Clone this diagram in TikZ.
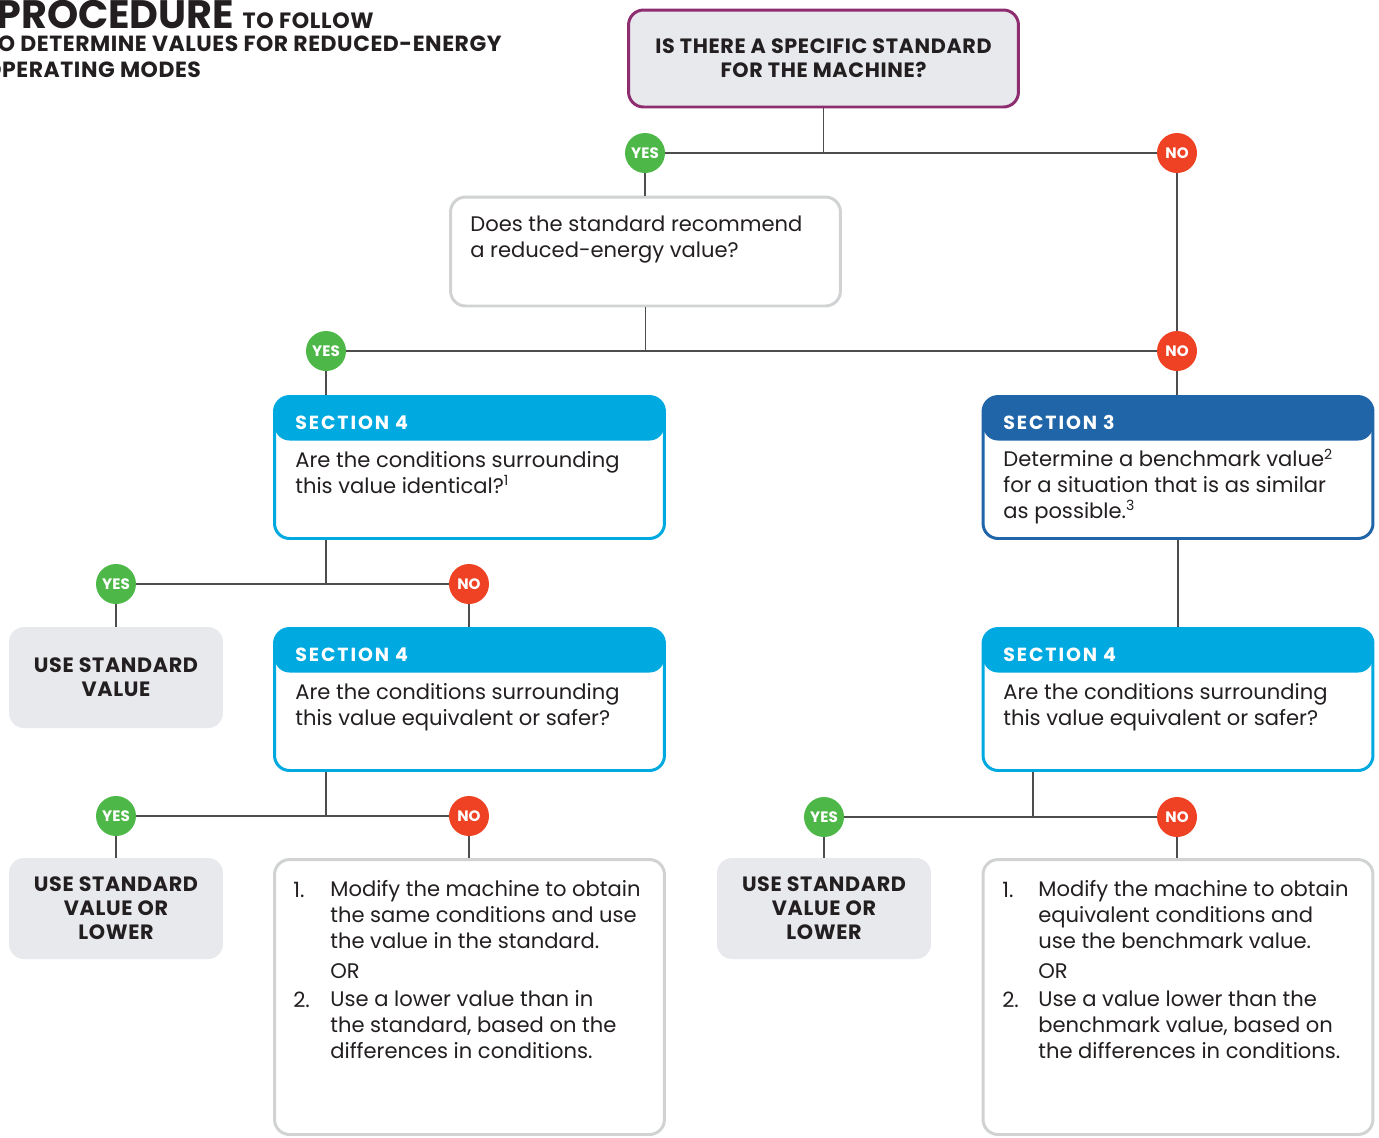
\documentclass[tikz,border=0pt]{standalone}
\usepackage{fontspec}
\setmainfont{Poppins}
\usepackage{xcolor}
\definecolor{pgpurple}{RGB}{142,45,112}
\definecolor{pgpale}{RGB}{232,233,237}
\definecolor{pgrim}{RGB}{208,210,211}
\definecolor{pgcyan}{RGB}{0,169,224}
\definecolor{pgblue}{RGB}{31,101,168}
\definecolor{pggreen}{RGB}{77,184,72}
\definecolor{pgred}{RGB}{239,65,35}
\definecolor{pgtext}{RGB}{35,31,32}
\definecolor{pgline}{RGB}{77,77,77}
\newcommand{\bodyfont}{\fontsize{12}{14.6}\selectfont}
\newcommand{\capsfont}{\fontsize{11.8}{13.7}\selectfont\bfseries\addfontfeatures{LetterSpace=3}}

\begin{document}
\begin{tikzpicture}[x=0.02cm, y=-0.02cm,
  link/.style={draw=pgline, line width=0.85pt},
  yesbadge/.style={circle, fill=pggreen, minimum size=0.8cm, inner sep=0pt, text=white, font=\fontsize{8.6}{9}\selectfont\bfseries},
  nobadge/.style={yesbadge, fill=pgred},
  plainbox/.style={draw=pgrim, line width=1.7pt, fill=white, rounded corners=0.3cm, minimum width=7.8cm},
  secbox/.style={draw=#1, line width=1.7pt, fill=white, rounded corners=0.3cm, minimum width=7.8cm, minimum height=2.84cm,
    path picture={\fill[#1] (path picture bounding box.north west) rectangle ([yshift=-0.88cm]path picture bounding box.north east);}},
  sechead/.style={anchor=base west, inner sep=0pt, text=white, font=\fontsize{10.8}{11}\selectfont\bfseries\addfontfeatures{LetterSpace=10}},
  bodytxt/.style={anchor=base west, inner sep=0pt, align=left, text=pgtext, font=\bodyfont},
  usebox/.style={fill=pgpale, rounded corners=0.3cm, minimum width=4.28cm, minimum height=2.02cm, align=center, text=pgtext, font=\capsfont}]
\useasboundingbox (0,0) rectangle (1379,1137);

% Title (runs off the left edge); a text node sits on its last line
\node[anchor=base west, inner sep=0pt, text=pgtext] (title) at (-4,28)
  {\fontsize{22.6}{23}\selectfont\bfseries PROCEDURE \fontsize{12.6}{13}\selectfont\addfontfeatures{LetterSpace=3}TO FOLLOW};
\node[anchor=base west, inner sep=0pt, align=left, text=pgtext,
  font=\fontsize{12.5}{14.8}\selectfont\bfseries\addfontfeatures{LetterSpace=2.5}] (subtitle) at (-16,77)
  {TO DETERMINE VALUES FOR REDUCED-ENERGY\\OPERATING MODES};

% Questions
\node[draw=pgpurple, line width=1.7pt, fill=pgpale, rounded corners=0.3cm, minimum width=7.8cm, minimum height=1.94cm,
  align=center, text=pgtext, font=\capsfont] (qstd) at (823.5,58.5) {IS THERE A SPECIFIC STANDARD\\FOR THE MACHINE?};
\node[plainbox, minimum height=2.18cm] (qrec) at (645.5,251.5) {};
\node[bodytxt] (qrectxt) at (470,257) {Does the standard recommend\\a reduced-energy value?};

% Sections
\node[secbox=pgcyan] (sec4a) at (469.5,467.5) {};
\node[sechead] (sec4ahead) at (295,429) {SECTION 4};
\node[bodytxt] (sec4atxt) at (295,493) {Are the conditions surrounding\\this value identical?\textsuperscript{1}};

\node[secbox=pgblue] (sec3) at (1178,467.5) {};
\node[sechead] (sec3head) at (1003,429) {SECTION 3};
\node[bodytxt] (sec3txt) at (1003,518) {Determine a benchmark value\textsuperscript{2}\\for a situation that is as similar\\as possible.\textsuperscript{3}};

\node[secbox=pgcyan] (sec4b) at (469.5,699.5) {};
\node[sechead] (sec4bhead) at (295,661) {SECTION 4};
\node[bodytxt] (sec4btxt) at (295,725) {Are the conditions surrounding\\this value equivalent or safer?};

\node[secbox=pgcyan] (sec4c) at (1178,699.5) {};
\node[sechead] (sec4chead) at (1003,661) {SECTION 4};
\node[bodytxt] (sec4ctxt) at (1003,725) {Are the conditions surrounding\\this value equivalent or safer?};

% Outcomes
\node[usebox] (usestd) at (116,677.5) {USE STANDARD\\VALUE};
\node[usebox] (uselowa) at (116,908.5) {USE STANDARD\\VALUE OR\\LOWER};
\node[usebox] (uselowb) at (824,908.5) {USE STANDARD\\VALUE OR\\LOWER};

\node[plainbox, minimum height=5.5cm] (acta) at (469.5,997) {};
\node[bodytxt] (actaone) at (293,897) {1.};
\node[bodytxt] (actafirst) at (330,948) {Modify the machine to obtain\\the same conditions and use\\the value in the standard.};
\node[bodytxt] (actaor) at (330,978) {OR};
\node[bodytxt] (actatwo) at (293,1007) {2.};
\node[bodytxt] (actasecond) at (330,1058) {Use a lower value than in\\the standard, based on the\\differences in conditions.};

\node[plainbox, minimum height=5.5cm] (actb) at (1178,997) {};
\node[bodytxt] (actbone) at (1002,897) {1.};
\node[bodytxt] (actbfirst) at (1038,948) {Modify the machine to obtain\\equivalent conditions and\\use the benchmark value.};
\node[bodytxt] (actbor) at (1038,978) {OR};
\node[bodytxt] (actbtwo) at (1002,1007) {2.};
\node[bodytxt] (actbsecond) at (1038,1058) {Use a value lower than the\\benchmark value, based on\\the differences in conditions.};

% Connectors
\draw[link] (qstd.south) -- (qstd.south |- 0,153);
\draw[link] (qrec.south) -- (qrec.south |- 0,351);
\draw[link] (326,540) -- (326,584);
\draw[link] (326,772) -- (326,816);
\draw[link] (sec3.south) -- (sec4c.north);
\coordinate (split) at (1033,817);
\draw[link] (split |- sec4c.south) -- (split);

% Yes / no badges
\node[yesbadge] (yes1) at (645,153) {YES};
\node[nobadge] (no1) at (1177,153) {NO};
\node[yesbadge] (yes2) at (326,351) {YES};
\node[nobadge] (no2) at (1177,351) {NO};
\node[yesbadge] (yes3) at (116,584) {YES};
\node[nobadge] (no3) at (469,584) {NO};
\node[yesbadge] (yes4) at (116,816) {YES};
\node[nobadge] (no4) at (469,816) {NO};
\node[yesbadge] (yes5) at (824,817) {YES};
\node[nobadge] (no5) at (1177,817) {NO};

\draw[link] (yes1) -- (no1);
\draw[link] (yes1) -- (yes1 |- qrec.north);
\draw[link] (no1) -- (no2);
\draw[link] (yes2) -- (no2);
\draw[link] (yes2) -- (yes2 |- sec4a.north);
\draw[link] (no2) -- (no2 |- sec3.north);
\draw[link] (yes3) -- (no3);
\draw[link] (yes3) -- (yes3 |- usestd.north);
\draw[link] (no3) -- (no3 |- sec4b.north);
\draw[link] (yes4) -- (no4);
\draw[link] (yes4) -- (yes4 |- uselowa.north);
\draw[link] (no4) -- (no4 |- acta.north);
\draw[link] (yes5) -- (no5);
\draw[link] (yes5) -- (yes5 |- uselowb.north);
\draw[link] (no5) -- (no5 |- actb.north);
\end{tikzpicture}
\end{document}
